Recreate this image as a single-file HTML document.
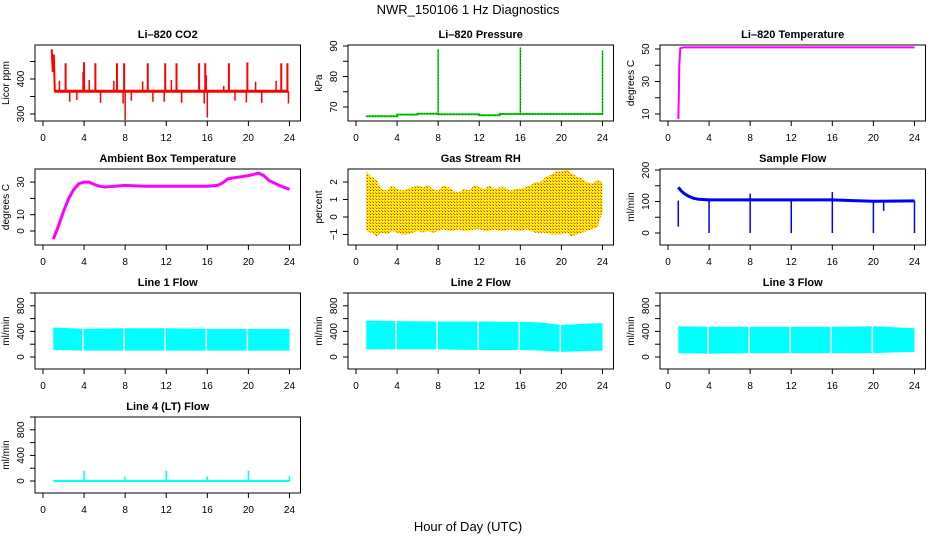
<!DOCTYPE html>
<html><head><meta charset="utf-8"><style>
html,body{margin:0;padding:0;background:#fff;}
svg{display:block;font-family:"Liberation Sans",Arial,sans-serif;}
</style></head><body>
<svg id="c" width="936" height="540" xmlns="http://www.w3.org/2000/svg">
<defs>
<pattern id="rhpat" width="3" height="3" patternUnits="userSpaceOnUse"><rect width="3" height="3" fill="#ffee00"/><rect x="1" y="1" width="1" height="1" fill="#e8201c"/><rect x="0" y="0" width="1" height="1" fill="#f08020"/></pattern>
</defs>
<text x="468" y="14" font-size="13" text-anchor="middle">NWR_150106  1 Hz Diagnostics</text>
<text x="468" y="531" font-size="13" text-anchor="middle">Hour of Day (UTC)</text>
</svg>
<script>
// ---- data arrays ----
const xTicks = [0,4,8,12,16,20,24];
// CO2
const co2Base = 365;
const co2UpT = [2.2,4.0,5.1,7.2,7.9,10.2,11.9,13.0,15.2,15.8,18.1,19.9,23.2,23.8];
const co2UpV = [445,448,445,445,445,445,445,445,445,445,445,447,445,445];
const co2MidT = [1.6,4.5,6.9,9.7,12.5,17.6,20.7,22.7,3.9,15.9];
const co2MidV = [395,397,395,393,397,380,392,395,420,410];
const co2DnT = [2.6,3.3,5.6,7.8,8.0,8.6,10.7,11.8,13.5,15.7,16.0,18.7,19.8,21.3,23.9];
const co2DnV = [335,340,332,330,283,338,335,335,332,330,290,338,333,332,330];
const co2StartT = [0.85,0.95,1.05,1.15];
const co2StartV = [485,420,470,365];
// Pressure
const presT = [1,4,4,6,6,8,8,12,12,14,14,24];
const presV = [67.0,67.0,67.5,67.5,67.8,67.8,67.6,67.6,67.3,67.3,67.7,67.7];
const presSpikeT = [8,16,24];
const presSpikeV = [89,89.5,88.5];
// Li-820 temperature
const ltT = [1.0,1.05,1.1,1.2,1.5,3,24];
const ltV = [7,20,40,50.5,51,51,51];
// Ambient box temperature
const abT = [1,1.5,2,2.5,3,3.5,4,4.5,5,5.5,6,7,8,10,12,14,16,17,17.5,18,19,20,21,21.5,22,23,24];
const abV = [-5,3,12,20,25.5,29,30,30,28.5,27.5,27,27.5,28,27.5,27.5,27.5,27.5,28,29.5,32,33,34,35.5,34,31,28,25.5];
// Gas stream RH band
const rhT =  [1,1.5,2,2.5,3,3.5,4,4.5,5,5.5,6,6.5,7,7.5,8,8.5,9,9.5,10,10.5,11,11.5,12,12.5,13,13.5,14,14.5,15,15.5,16,16.5,17,17.5,18,18.5,19,19.5,20,20.5,21,21.5,22,22.5,23,23.5,24];
const rhHi = [2.6,2.3,2.1,1.6,1.5,1.8,1.6,1.5,1.6,1.7,1.8,1.7,1.8,1.6,1.5,1.8,1.7,1.5,1.4,1.6,1.5,1.8,1.7,1.6,1.8,1.6,1.7,1.7,1.5,1.6,1.6,1.7,1.8,2.0,2.0,2.3,2.4,2.6,2.6,2.7,2.5,2.3,2.2,2.0,1.9,2.1,2.0];
const rhLo = [-0.8,-0.9,-1.1,-0.9,-1.0,-0.8,-0.9,-1.0,-1.0,-0.9,-0.8,-0.9,-0.8,-0.9,-0.8,-0.7,-0.8,-0.8,-0.7,-0.8,-0.8,-0.7,-0.7,-0.8,-0.8,-0.7,-0.8,-0.8,-0.7,-0.8,-0.8,-0.7,-0.8,-0.9,-0.9,-0.9,-1.0,-1.0,-1.0,-0.9,-1.1,-1.0,-0.9,-0.8,-0.7,-0.6,0.3];
// Sample flow
const sfT = [1,1.3,1.6,2,2.5,3,4,8,12,16,18,20,24];
const sfV = [145,133,125,117,110,107,105,105,105,105,103,101,102];
const sfDropT = [1.0,4.0,8.0,12.0,16.0,20.0,21.0,24.0];
const sfDropV = [20,0,0,0,0,0,70,0];
const sfUpT = [8.0,16.0];
const sfUpV = [125,130];
// Line flows bands
const gapT = [3.9,7.9,11.9,15.9,19.9];
const l1T = [1,4,8,12,16,20,24], l1Hi=[460,440,450,450,440,440,440], l1Lo=[110,100,100,100,100,100,100];
const l2T = [1,4,8,12,16,18,20,22,24], l2Hi=[570,560,555,555,550,540,500,520,530], l2Lo=[120,120,120,110,110,100,80,90,100];
const l3T = [1,4,8,12,16,20,24], l3Hi=[480,470,470,470,470,480,450], l3Lo=[60,50,60,60,60,60,80];
// Line 4 flow
const l4Base = 0;
const l4SpikeT = [4,8,12,16,20,24];
const l4SpikeV = [160,70,160,70,160,80];

// ---- layout ----
const svg = document.getElementById('c');
const NS = 'http://www.w3.org/2000/svg';
const colX = [43,356,668], rowTop=[45,169,293,417], PPH=10.27;
function el(tag, attrs, parent){const e=document.createElementNS(NS,tag);for(const k in attrs)e.setAttribute(k,attrs[k]);(parent||svg).appendChild(e);return e;}

function panel(o){
  const g = el('g',{});
  
  
  const x0=colX[o.col], top=rowTop[o.row], bot=top+76;
  const left=x0-8, right=x0+24*PPH+11;
  const X=t=>x0+t*PPH;
  const Y=v=>o.zeroPx-(v-o.v0)*o.k;
  const t=el('text',{x:(left+right)/2,y:top-7,'font-size':11,'font-weight':'bold','text-anchor':'middle'},g);
  t.textContent=o.title;
  
  
  const xa=el('g',{},g);
  
  
  xTicks.forEach(v=>{el('line',{x1:X(v),x2:X(v),y1:bot,y2:bot+5,stroke:'#000'},xa);
    const tx=el('text',{x:X(v),y:bot+20,'font-size':10,'text-anchor':'middle'},xa);tx.textContent=v;});
  const ya=el('g',{},g);
  
  
  o.yt.forEach(v=>{el('line',{x1:left-5,x2:left,y1:Y(v),y2:Y(v),stroke:'#000'},ya);});
  o.yl.forEach(v=>{const tx=el('text',{x:0,y:0,'font-size':10,'text-anchor':'middle',transform:`translate(${left-11},${Y(v)}) rotate(-90)`},ya);tx.textContent=String(v).replace('-','\u2212');});
  const yt=el('text',{x:0,y:0,'font-size':10,'text-anchor':'middle',transform:`translate(${left-26},${(top+bot)/2}) rotate(-90)`},g);
  yt.textContent=o.ylab;
  
  
  const d=el('g',{},g);
  
  
  o.draw(d,X,Y);
  el('rect',{x:left,y:top,width:right-left,height:bot-top,fill:'none',stroke:'#000'},g);
}
const pl=(T,V,X,Y)=>T.map((t,i)=>X(t).toFixed(1)+','+Y(V[i]).toFixed(1)).join(' ');
function spikes(g,T,V,base,X,Y,col,w){T.forEach((t,i)=>el('line',{x1:X(t),x2:X(t),y1:Y(base),y2:Y(V[i]),stroke:col,'stroke-width':w||1.5},g));}
function band(g,T,H,L,X,Y,fill){const pts=T.map((t,i)=>X(t)+','+Y(H[i])).concat(T.slice().reverse().map((t,j)=>X(t)+','+Y(L[T.length-1-j])));el('polygon',{points:pts.join(' '),fill:fill},g);}

panel({name:'co2-panel',title:'Li\u2013820 CO2',col:0,row:0,zeroPx:114,v0:300,k:0.35,yt:[300,350,400,450],yl:[300,400],ylab:'Licor ppm',draw:(g,X,Y)=>{
  el('line',{x1:X(1.1),x2:X(23.9),y1:Y(co2Base),y2:Y(co2Base),stroke:'#f00','stroke-width':3},g);
  spikes(g,co2UpT,co2UpV,co2Base,X,Y,'#f00',2);
  spikes(g,co2MidT,co2MidV,co2Base,X,Y,'#f00',1.5);
  spikes(g,co2DnT,co2DnV,co2Base,X,Y,'#f00',1.5);
  el('polyline',{points:pl(co2StartT,co2StartV,X,Y),fill:'none',stroke:'#f00','stroke-width':2},g);}});
panel({name:'pressure-panel',title:'Li\u2013820 Pressure',col:1,row:0,zeroPx:107,v0:70,k:3.05,yt:[70,75,80,85,90],yl:[70,80,90],ylab:'kPa',draw:(g,X,Y)=>{
  el('polyline',{points:pl(presT,presV,X,Y),fill:'none',stroke:'#00e000','stroke-width':2},g);
  el('polyline',{points:pl(presT,presV,X,Y),fill:'none',stroke:'#000','stroke-width':0.8,'stroke-dasharray':'1 2'},g);
  spikes(g,presSpikeT,presSpikeV,67.5,X,Y,'#00e000',1.5);
  presSpikeT.forEach((t,i)=>el('line',{x1:X(t),x2:X(t),y1:Y(67.5),y2:Y(presSpikeV[i]),stroke:'#000','stroke-width':0.7,'stroke-dasharray':'1 2'},g));}});
panel({name:'li820-temperature-panel',title:'Li\u2013820 Temperature',col:2,row:0,zeroPx:114,v0:10,k:1.625,yt:[10,20,30,40,50],yl:[10,30,50],ylab:'degrees C',draw:(g,X,Y)=>{
  el('polyline',{points:pl(ltT,ltV,X,Y),fill:'none',stroke:'#f0f','stroke-width':2},g);}});
panel({name:'ambient-temperature-panel',title:'Ambient Box Temperature',col:0,row:1,zeroPx:231,v0:0,k:1.63,yt:[0,10,20,30],yl:[0,10,30],ylab:'degrees C',draw:(g,X,Y)=>{
  el('polyline',{points:pl(abT,abV,X,Y),fill:'none',stroke:'#f0f','stroke-width':3},g);}});
panel({name:'rh-panel',title:'Gas Stream RH',col:1,row:1,zeroPx:217,v0:0,k:17.5,yt:[-1,0,1,2],yl:[-1,0,1,2],ylab:'percent',draw:(g,X,Y)=>{
  band(g,rhT,rhHi,rhLo,X,Y,'url(#rhpat)');}});
panel({name:'sample-flow-panel',title:'Sample Flow',col:2,row:1,zeroPx:233,v0:0,k:0.315,yt:[0,50,100,150,200],yl:[0,100,200],ylab:'ml/min',draw:(g,X,Y)=>{
  el('polyline',{points:pl(sfT,sfV,X,Y),fill:'none',stroke:'#00f','stroke-width':3},g);
  spikes(g,sfDropT,sfDropV,103,X,Y,'#00f',1.5);
  spikes(g,sfUpT,sfUpV,103,X,Y,'#00f',1.5);}});
function flowPanel(name,title,col,row,T,H,L){
  panel({name:name,title:title,col:col,row:row,zeroPx:rowTop[row]+64,v0:0,k:0.064,yt:[0,200,400,600,800,1000],yl:[0,400,800],ylab:'ml/min',draw:(g,X,Y)=>{
    band(g,T,H,L,X,Y,'#00ffff');
    gapT.forEach(t=>el('line',{x1:X(t),x2:X(t),y1:Y(Math.max(...H))-2,y2:Y(0)+2,stroke:'#fff','stroke-width':1.5},g));}});
}
flowPanel('line1-flow-panel','Line 1 Flow',0,2,l1T,l1Hi,l1Lo);
flowPanel('line2-flow-panel','Line 2 Flow',1,2,l2T,l2Hi,l2Lo);
flowPanel('line3-flow-panel','Line 3 Flow',2,2,l3T,l3Hi,l3Lo);
panel({name:'line4-flow-panel',title:'Line 4 (LT) Flow',col:0,row:3,zeroPx:rowTop[3]+64,v0:0,k:0.064,yt:[0,200,400,600,800,1000],yl:[0,400,800],ylab:'ml/min',draw:(g,X,Y)=>{
  el('line',{x1:X(1),x2:X(24),y1:Y(l4Base),y2:Y(l4Base),stroke:'#00ffff','stroke-width':2},g);
  spikes(g,l4SpikeT,l4SpikeV,l4Base,X,Y,'#00ffff',1.5);}});
</script>
</body></html>
